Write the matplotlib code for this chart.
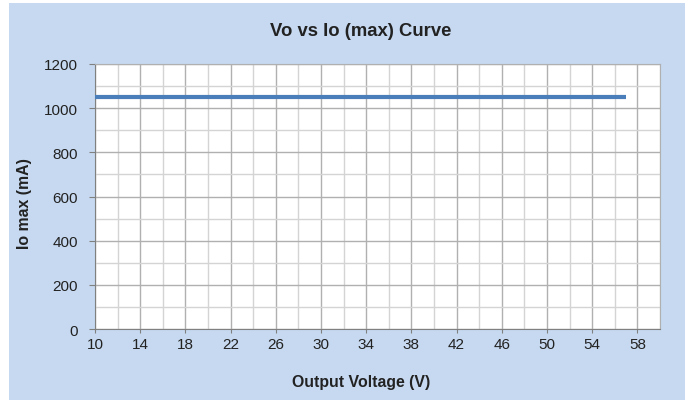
import matplotlib.pyplot as plt
from matplotlib.patches import Rectangle
from matplotlib.ticker import MultipleLocator

plt.rcParams['font.family'] = ['Liberation Sans', 'DejaVu Sans']

# Output voltage (V) vs max output current (mA)
voltage = [10, 57]
io_max = [1050, 1050]

x_ticks = [10, 14, 18, 22, 26, 30, 34, 38, 42, 46, 50, 54, 58]
y_ticks = [0, 200, 400, 600, 800, 1000, 1200]

fig = plt.figure(figsize=(6.94, 4.02), dpi=100)
fig.patch.set_facecolor('white')

# light blue panel behind the chart
fig.patches.append(Rectangle((9 / 694, 1 - 401 / 402), 676 / 694, 397 / 402,
                             transform=fig.transFigure, facecolor='#c6d9f0',
                             edgecolor='none', zorder=-5))

ax = fig.add_axes([95 / 694, 1 - 330 / 402, 565 / 694, 265 / 402])
ax.set_facecolor('white')

ax.plot(voltage, io_max, color='#4a7ebb', linewidth=3, solid_capstyle='butt', zorder=3)

ax.set_xlim(10, 60)
ax.set_ylim(0, 1200)
ax.set_xticks(x_ticks)
ax.set_yticks(y_ticks)
ax.xaxis.set_minor_locator(MultipleLocator(2))
ax.yaxis.set_minor_locator(MultipleLocator(100))

ax.grid(which='major', color='#b0b0b0', linewidth=1)
ax.grid(which='minor', color='#d4d4d4', linewidth=1)
ax.set_axisbelow(True)

ax.tick_params(which='major', color='#808080', labelsize=11, labelcolor='#222222')
ax.tick_params(axis='x', which='major', length=3, pad=3)
ax.tick_params(axis='y', which='major', length=4.3, pad=8)
ax.tick_params(which='minor', length=0)

for side in ['left', 'bottom']:
    ax.spines[side].set_color('#808080')
for side in ['top', 'right']:
    ax.spines[side].set_color('#b0b0b0')

fig.text(361 / 694, 1 - 32 / 402, 'Vo vs Io (max) Curve', ha='center', va='center',
         fontsize=13.3, fontweight='bold', color='#222222')
fig.text(361 / 694, 1 - 383 / 402, 'Output Voltage (V)', ha='center', va='center',
         fontsize=11.4, fontweight='bold', color='#222222')
fig.text(25 / 694, 1 - 204 / 402, 'Io max (mA)', ha='center', va='center',
         rotation=90, fontsize=11.4, fontweight='bold', color='#222222')

fig.savefig('out.png', dpi=100)
